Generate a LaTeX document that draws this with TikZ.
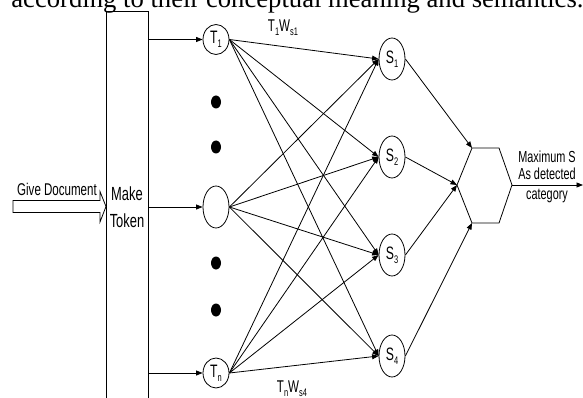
\documentclass[tikz,border=0pt]{standalone}
\usepackage{fontspec}
\usepackage{graphicx}
\setmainfont{Liberation Serif}
\newfontfamily\narrowsans[FakeStretch=0.68]{Liberation Sans}
\usetikzlibrary{arrows.meta,shapes.geometric}
\newcommand{\mysub}[1]{\raisebox{-4pt}{\fontsize{11}{11}\selectfont #1}}
\begin{document}
\begin{tikzpicture}[x=1pt,y=-1pt,
  line width=0.8pt,
  lbl/.style={font=\narrowsans\fontsize{17}{20}\selectfont, inner sep=0pt},
  tnode/.style={draw, ellipse, line width=0.8pt, minimum width=26pt, minimum height=30pt, inner sep=0pt, font=\narrowsans\fontsize{18}{20}\selectfont},
  snode/.style={tnode, minimum height=42pt},
  dotnode/.style={fill, ellipse, minimum width=10pt, minimum height=13pt, inner sep=0pt},
  arr/.style={-{Triangle[length=6.5pt,width=5pt]}, line width=0.8pt}]
\useasboundingbox (0,0) rectangle (583,398);
% clipped heading line
\node[anchor=base west, inner sep=0pt] (head) at (11,8) {\resizebox{572pt}{!}{according to their conceptual meaning and semantics.}};
% Make Token box (open at bottom)
\draw[line width=0.8pt] (106,400) -- (106,11.7) -- (148,11.7) -- (148,400);
\node[lbl, align=center, font=\narrowsans\fontsize{19}{27}\selectfont] (mt) at (127,207) {Make\\Token};
% Give Document block arrow
\draw[line width=0.8pt] (13,200.5) -- (100,200.5) -- (100,191.5) -- (106,206.5) -- (100,222) -- (100,212.5) -- (13,212.5) -- cycle;
\node[lbl, anchor=base] (gd) at (57,195) {Give Document};
% token nodes
\node[tnode] (T1) at (216,39.5) {T\mysub{1}};
\node[snode] (Tm) at (216,207) {};
\node[tnode] (Tn) at (216,373) {T\mysub{n}};
\node[dotnode] (d1) at (216,102) {};
\node[dotnode] (d2) at (216,147) {};
\node[dotnode] (d3) at (216,263) {};
\node[dotnode] (d4) at (216,310) {};
\coordinate (b1) at (148,39.5);
\coordinate (bm) at (148,207);
\coordinate (bn) at (148,373);
\draw[arr] (b1) -- (T1.west);
\draw[arr] (bm) -- (Tm.west);
\draw[arr] (bn) -- (Tn.west);
% category nodes
\node[snode] (S1) at (392,59) {S\mysub{1}};
\node[snode] (S2) at (392,157) {S\mysub{2}};
\node[snode] (S3) at (392,255) {S\mysub{3}};
\node[snode] (S4) at (392,356) {S\mysub{4}};
\foreach \t in {T1,Tm,Tn}
  \foreach \s in {S1,S2,S3,S4}
    \draw[arr] (\t.east) -- (\s.west);
\node[lbl] (w1) at (283,28) {T\mysub{1}W\mysub{s1}};
\node[lbl] (wn) at (292,389) {T\mysub{n}W\mysub{s4}};
% hexagon
\coordinate (hl) at (457,185);
\coordinate (htl) at (472,148);
\coordinate (htr) at (499,148);
\coordinate (hr) at (512,185);
\coordinate (hbr) at (499,223);
\coordinate (hbl) at (472,223);
\draw[line width=0.8pt] (hl) -- (htl) -- (htr) -- (hr) -- (hbr) -- (hbl) -- cycle;
\draw[arr] (S1.east) -- (htl);
\draw[arr] (S2.east) -- (hl);
\draw[arr] (S3.east) -- (hl);
\draw[arr] (S4.east) -- (hbl);
\coordinate (out) at (583,185);
\draw[arr] (hr) -- (out);
\node[lbl, anchor=base, font=\narrowsans\fontsize{16}{18}\selectfont] (o1) at (547,163) {Maximum S};
\node[lbl, anchor=base, font=\narrowsans\fontsize{16}{18}\selectfont] (o2) at (547,179) {As detected};
\node[lbl, anchor=base, font=\narrowsans\fontsize{16}{18}\selectfont] (o3) at (547,200) {category};
\end{tikzpicture}
\end{document}
